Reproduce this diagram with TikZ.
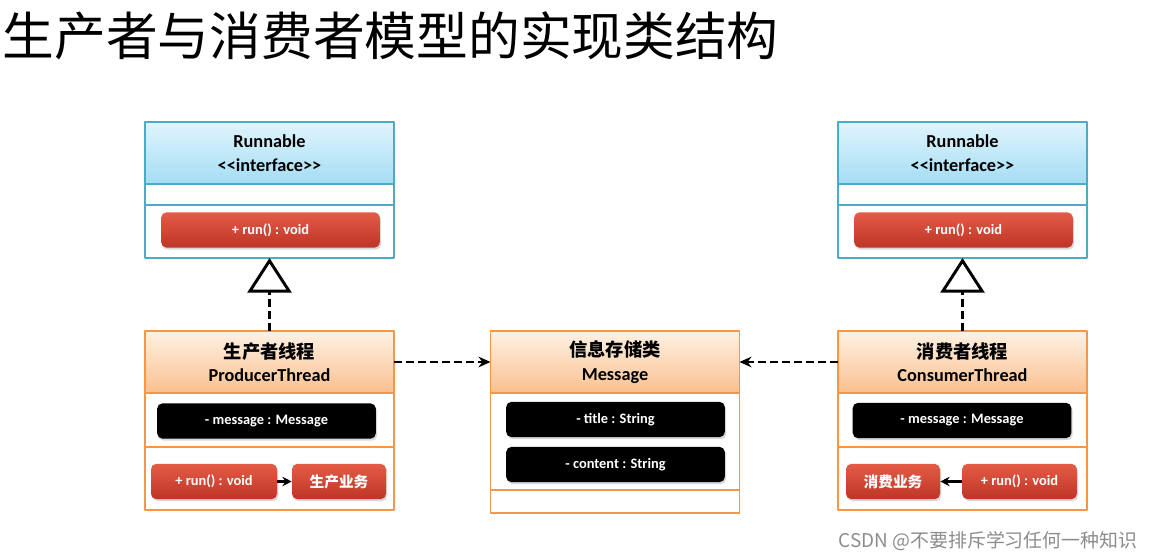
\documentclass[tikz,border=0pt]{standalone}
\usepackage{fontspec}
\setmainfont{Carlito}
\newfontfamily\cjk{Noto Sans CJK SC}
\usetikzlibrary{positioning,arrows.meta,shadows}
\definecolor{bluebd}{RGB}{75,172,198}
\definecolor{bluetop}{RGB}{224,244,252}
\definecolor{bluebot}{RGB}{164,221,244}
\definecolor{orgbd}{RGB}{247,150,70}
\definecolor{orgtop}{RGB}{254,242,228}
\definecolor{orgbot}{RGB}{250,192,143}
\definecolor{redtop}{RGB}{228,92,70}
\definecolor{redbot}{RGB}{190,52,38}

\begin{document}
\begin{tikzpicture}[x=0.75pt,y=-0.75pt,>=Stealth,line join=round,
	box/.style={rectangle,draw,line width=1.1pt,minimum width=186.75pt,inner sep=0pt,outer sep=0pt,fill=white},
	ifhead/.style={box,draw=bluebd,top color=bluetop,bottom color=bluebot,minimum height=46.5pt,align=center,font=\bfseries\fontsize{13.7}{17.5}\selectfont},
	clhead/.style={box,draw=orgbd,top color=orgtop,bottom color=orgbot,minimum height=46.5pt,align=center,font=\bfseries\fontsize{13.7}{17.5}\selectfont},
	ifpart/.style={box,draw=bluebd,below=0pt of #1},
	clpart/.style={box,draw=orgbd,below=0pt of #1},
	redbtn/.style={rectangle,rounded corners=4pt,top color=redtop,bottom color=redbot,text=white,minimum height=26.5pt,font=\bfseries\fontsize{10.8}{12}\selectfont,drop shadow={shadow xshift=1pt,shadow yshift=-1.5pt,opacity=0.3}},
	blkbar/.style={rectangle,rounded corners=4pt,fill=black,text=white,minimum width=164pt,minimum height=26.5pt,font=\bfseries\fontsize{10.8}{12}\selectfont,drop shadow={shadow xshift=1pt,shadow yshift=-1.5pt,opacity=0.3}},
	dep/.style={line width=2.2pt,dash pattern=on 6pt off 3pt,-{Stealth[length=9pt,width=8pt]}},
	impl/.style={line width=2.2pt,dash pattern=on 6pt off 3pt,-{Triangle[open,length=26pt,width=33pt,line width=2.2pt]}}]
	\useasboundingbox (0,0) rectangle (1153,559);
	\node[anchor=west,font=\cjk\fontsize{38.8}{40}\selectfont] (title) at (-2,36) {生产者与消费者模型的实现类结构};
	% Runnable interfaces
	\node[ifhead] (runL) at (269.5,153) {Runnable\\<\kern0pt<interface>\kern0pt>};
	\node[ifpart=runL,minimum height=15.75pt] (runLe) {};
	\node[ifpart=runLe,minimum height=39.75pt] (runLo) {};
	\node[redbtn,minimum width=164pt] (runLbtn) at (270.5,230) {+ run() : void};
	\node[ifhead] (runR) at (962.5,153) {Runnable\\<\kern0pt<interface>\kern0pt>};
	\node[ifpart=runR,minimum height=15.75pt] (runRe) {};
	\node[ifpart=runRe,minimum height=39.75pt] (runRo) {};
	\node[redbtn,minimum width=164pt] (runRbtn) at (963.5,230) {+ run() : void};
	% producer
	\node[clhead] (prod) at (269.5,362) {{\cjk\bfseries 生产者线程}\\ProducerThread};
	\node[clpart=prod,minimum height=40.5pt] (prodAttr) {};
	\node[clpart=prodAttr,minimum height=47.25pt] (prodOps) {};
	\node[blkbar] (prodMsg) at (266.5,421) {- message : Message};
	\node[redbtn,minimum width=94.5pt] (prodRun) at (214,481.5) {+ run() : void};
	\node[redbtn,minimum width=70.5pt,font=\cjk\bfseries\fontsize{11}{13}\selectfont] (prodBiz) at (339,481.5) {生产业务};
	\draw[line width=1.6pt,-{Stealth[length=7pt,width=7pt]}] (prodRun) -- (prodBiz);
	% message
	\node[clhead] (msg) at (615,362) {{\cjk\bfseries 信息存储类}\\Message};
	\node[clpart=msg,minimum height=72.75pt] (msgAttr) {};
	\node[clpart=msgAttr,minimum height=17.25pt] (msgEmpty) {};
	\node[blkbar] (msgTitle) at (615.5,419.5) {- title : String};
	\node[blkbar] (msgContent) at (615.5,464.5) {- content : String};
	% consumer
	\node[clhead] (cons) at (962.5,362) {{\cjk\bfseries 消费者线程}\\ConsumerThread};
	\node[clpart=cons,minimum height=40.5pt] (consAttr) {};
	\node[clpart=consAttr,minimum height=47.25pt] (consOps) {};
	\node[blkbar] (consMsg) at (962,420.5) {- message : Message};
	\node[redbtn,minimum width=70.5pt,font=\cjk\bfseries\fontsize{11}{13}\selectfont] (consBiz) at (893,481.5) {消费业务};
	\node[redbtn,minimum width=86pt] (consRun) at (1019.5,481.5) {+ run() : void};
	\draw[line width=1.6pt,-{Stealth[length=7pt,width=7pt]}] (consRun) -- (consBiz);
	% connectors
	\draw[impl] (prod.north) -- (runLo.south);
	\draw[impl] (cons.north) -- (runRo.south);
	\draw[dep] (prod.east) -- (msg.west);
	\draw[dep] (cons.west) -- (msg.east);
	\node[text=black!45,font=\cjk\fontsize{14.2}{16}\selectfont] (mark) at (988,541) {CSDN @不要排斥学习任何一种知识};
\end{tikzpicture}
\end{document}
